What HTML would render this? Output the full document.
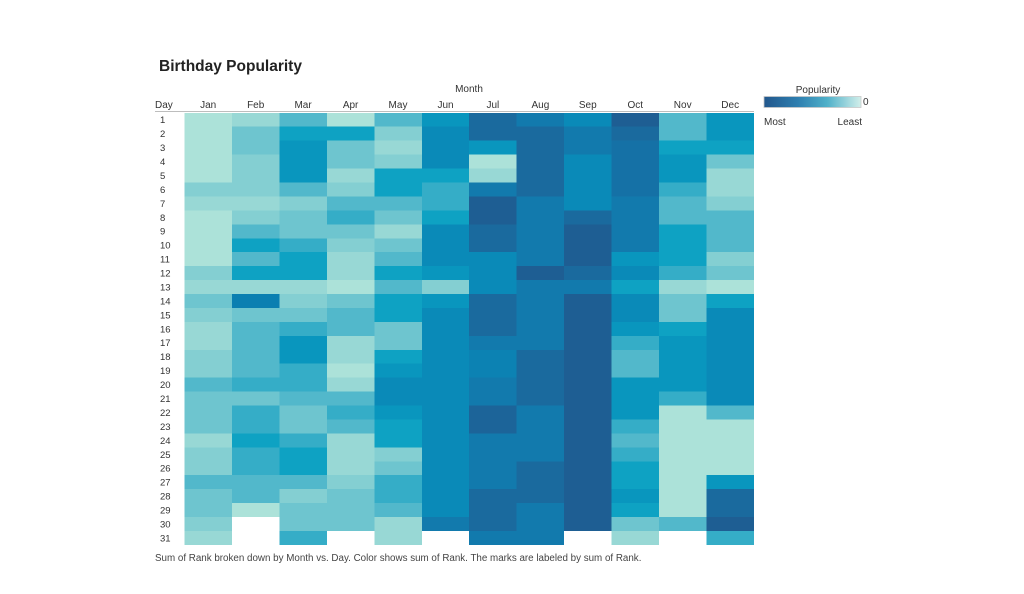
<!DOCTYPE html>
<html><head><meta charset="utf-8"><style>
html,body{margin:0;padding:0;background:#fff;}
svg{display:block;}
text{font-family:"Liberation Sans",Arial,sans-serif;fill:#333;}
.a{fill:#ace2d9}.b{fill:#98d8d5}.c{fill:#84cfd2}.d{fill:#6ec5cf}.e{fill:#52b8cb}.f{fill:#35adc7}
.g{fill:#0ea2c3}.h{fill:#0996be}.i{fill:#0a8ab8}.j{fill:#127aad}.k{fill:#1a6a9e}.l{fill:#1e5e93}
.m{fill:#0c82b3}.n{fill:#1571a6}.o{fill:#1c6499}.p{fill:#0b7fb1}
</style></head><body>
<svg width="1024" height="594" viewBox="0 0 1024 594" xmlns="http://www.w3.org/2000/svg">
<defs><linearGradient id="lg" x1="0" y1="0" x2="1" y2="0">
<stop offset="0" stop-color="#22578c"/><stop offset="0.35" stop-color="#2e7fb0"/><stop offset="0.65" stop-color="#4fb0c9"/><stop offset="1" stop-color="#d2efea"/></linearGradient></defs>
<rect width="1024" height="594" fill="#fff"/>
<text x="159" y="71" style="font-size:15.5px;font-weight:bold;fill:#222">Birthday Popularity</text>
<text x="469" y="92" text-anchor="middle" style="font-size:10px">Month</text>
<text x="155" y="108" style="font-size:10px">Day</text>
<g style="font-size:10px" text-anchor="middle">
<text x="208.2" y="108">Jan</text><text x="255.7" y="108">Feb</text><text x="303.1" y="108">Mar</text><text x="350.6" y="108">Apr</text><text x="398" y="108">May</text><text x="445.5" y="108">Jun</text><text x="492.9" y="108">Jul</text><text x="540.4" y="108">Aug</text><text x="587.8" y="108">Sep</text><text x="635.3" y="108">Oct</text><text x="682.7" y="108">Nov</text><text x="730.2" y="108">Dec</text>
</g>
<line x1="155" y1="111.5" x2="754" y2="111.5" stroke="#bdbdbd" stroke-width="1"/>
<g style="font-size:9.5px">
<text x="160" y="123.2">1</text><text x="160" y="137.1">2</text><text x="160" y="151.1">3</text><text x="160" y="165">4</text><text x="160" y="179">5</text><text x="160" y="192.9">6</text><text x="160" y="206.8">7</text><text x="160" y="220.8">8</text><text x="160" y="234.7">9</text><text x="160" y="248.7">10</text><text x="160" y="262.6">11</text><text x="160" y="276.5">12</text><text x="160" y="290.5">13</text><text x="160" y="304.4">14</text><text x="160" y="318.4">15</text><text x="160" y="332.3">16</text><text x="160" y="346.2">17</text><text x="160" y="360.2">18</text><text x="160" y="374.1">19</text><text x="160" y="388.1">20</text><text x="160" y="402">21</text><text x="160" y="415.9">22</text><text x="160" y="429.9">23</text><text x="160" y="443.8">24</text><text x="160" y="457.8">25</text><text x="160" y="471.7">26</text><text x="160" y="485.6">27</text><text x="160" y="499.6">28</text><text x="160" y="513.5">29</text><text x="160" y="527.5">30</text><text x="160" y="541.4">31</text>
</g>
<g transform="translate(184.5,112.8) scale(47.45,13.94)" shape-rendering="crispEdges">
<!-- Jan -->
<rect x="0" y="0" width="1" height="5" class="a"/><rect x="0" y="5" width="1" height="1" class="c"/><rect x="0" y="6" width="1" height="1" class="b"/><rect x="0" y="7" width="1" height="4" class="a"/><rect x="0" y="11" width="1" height="1" class="c"/><rect x="0" y="12" width="1" height="1" class="b"/><rect x="0" y="13" width="1" height="1" class="d"/><rect x="0" y="14" width="1" height="1" class="c"/><rect x="0" y="15" width="1" height="2" class="b"/><rect x="0" y="17" width="1" height="2" class="c"/><rect x="0" y="19" width="1" height="1" class="e"/><rect x="0" y="20" width="1" height="3" class="d"/><rect x="0" y="23" width="1" height="1" class="b"/><rect x="0" y="24" width="1" height="2" class="c"/><rect x="0" y="26" width="1" height="1" class="e"/><rect x="0" y="27" width="1" height="2" class="d"/><rect x="0" y="29" width="1" height="1" class="c"/><rect x="0" y="30" width="1" height="1" class="b"/>
<!-- Feb -->
<rect x="1" y="0" width="1" height="1" class="b"/><rect x="1" y="1" width="1" height="2" class="d"/><rect x="1" y="3" width="1" height="3" class="c"/><rect x="1" y="6" width="1" height="1" class="b"/><rect x="1" y="7" width="1" height="1" class="c"/><rect x="1" y="8" width="1" height="1" class="e"/><rect x="1" y="9" width="1" height="1" class="g"/><rect x="1" y="10" width="1" height="1" class="e"/><rect x="1" y="11" width="1" height="1" class="g"/><rect x="1" y="12" width="1" height="1" class="b"/><rect x="1" y="13" width="1" height="1" class="p"/><rect x="1" y="14" width="1" height="1" class="d"/><rect x="1" y="15" width="1" height="4" class="e"/><rect x="1" y="19" width="1" height="1" class="f"/><rect x="1" y="20" width="1" height="1" class="d"/><rect x="1" y="21" width="1" height="2" class="f"/><rect x="1" y="23" width="1" height="1" class="g"/><rect x="1" y="24" width="1" height="2" class="f"/><rect x="1" y="26" width="1" height="2" class="e"/><rect x="1" y="28" width="1" height="1" class="a"/>
<!-- Mar -->
<rect x="2" y="0" width="1" height="1" class="e"/><rect x="2" y="1" width="1" height="1" class="g"/><rect x="2" y="2" width="1" height="3" class="h"/><rect x="2" y="5" width="1" height="1" class="e"/><rect x="2" y="6" width="1" height="1" class="c"/><rect x="2" y="7" width="1" height="2" class="d"/><rect x="2" y="9" width="1" height="1" class="f"/><rect x="2" y="10" width="1" height="2" class="g"/><rect x="2" y="12" width="1" height="1" class="b"/><rect x="2" y="13" width="1" height="1" class="c"/><rect x="2" y="14" width="1" height="1" class="d"/><rect x="2" y="15" width="1" height="1" class="f"/><rect x="2" y="16" width="1" height="2" class="h"/><rect x="2" y="18" width="1" height="2" class="f"/><rect x="2" y="20" width="1" height="1" class="e"/><rect x="2" y="21" width="1" height="2" class="d"/><rect x="2" y="23" width="1" height="1" class="f"/><rect x="2" y="24" width="1" height="2" class="g"/><rect x="2" y="26" width="1" height="1" class="e"/><rect x="2" y="27" width="1" height="1" class="c"/><rect x="2" y="28" width="1" height="2" class="d"/><rect x="2" y="30" width="1" height="1" class="f"/>
<!-- Apr -->
<rect x="3" y="0" width="1" height="1" class="a"/><rect x="3" y="1" width="1" height="1" class="g"/><rect x="3" y="2" width="1" height="2" class="d"/><rect x="3" y="4" width="1" height="1" class="b"/><rect x="3" y="5" width="1" height="1" class="c"/><rect x="3" y="6" width="1" height="1" class="e"/><rect x="3" y="7" width="1" height="1" class="f"/><rect x="3" y="8" width="1" height="1" class="d"/><rect x="3" y="9" width="1" height="1" class="c"/><rect x="3" y="10" width="1" height="2" class="b"/><rect x="3" y="12" width="1" height="1" class="a"/><rect x="3" y="13" width="1" height="1" class="d"/><rect x="3" y="14" width="1" height="2" class="e"/><rect x="3" y="16" width="1" height="2" class="b"/><rect x="3" y="18" width="1" height="1" class="a"/><rect x="3" y="19" width="1" height="1" class="b"/><rect x="3" y="20" width="1" height="1" class="e"/><rect x="3" y="21" width="1" height="1" class="f"/><rect x="3" y="22" width="1" height="1" class="e"/><rect x="3" y="23" width="1" height="3" class="b"/><rect x="3" y="26" width="1" height="1" class="c"/><rect x="3" y="27" width="1" height="3" class="d"/>
<!-- May -->
<rect x="4" y="0" width="1" height="1" class="e"/><rect x="4" y="1" width="1" height="1" class="c"/><rect x="4" y="2" width="1" height="1" class="b"/><rect x="4" y="3" width="1" height="1" class="c"/><rect x="4" y="4" width="1" height="2" class="g"/><rect x="4" y="6" width="1" height="1" class="e"/><rect x="4" y="7" width="1" height="1" class="d"/><rect x="4" y="8" width="1" height="1" class="b"/><rect x="4" y="9" width="1" height="1" class="d"/><rect x="4" y="10" width="1" height="1" class="e"/><rect x="4" y="11" width="1" height="1" class="g"/><rect x="4" y="12" width="1" height="1" class="e"/><rect x="4" y="13" width="1" height="2" class="g"/><rect x="4" y="15" width="1" height="2" class="d"/><rect x="4" y="17" width="1" height="1" class="g"/><rect x="4" y="18" width="1" height="1" class="h"/><rect x="4" y="19" width="1" height="2" class="i"/><rect x="4" y="21" width="1" height="1" class="h"/><rect x="4" y="22" width="1" height="2" class="g"/><rect x="4" y="24" width="1" height="1" class="c"/><rect x="4" y="25" width="1" height="1" class="d"/><rect x="4" y="26" width="1" height="2" class="f"/><rect x="4" y="28" width="1" height="1" class="e"/><rect x="4" y="29" width="1" height="2" class="b"/>
<!-- Jun -->
<rect x="5" y="0" width="1" height="1" class="h"/><rect x="5" y="1" width="1" height="3" class="i"/><rect x="5" y="4" width="1" height="1" class="g"/><rect x="5" y="5" width="1" height="2" class="f"/><rect x="5" y="7" width="1" height="1" class="g"/><rect x="5" y="8" width="1" height="3" class="i"/><rect x="5" y="11" width="1" height="1" class="h"/><rect x="5" y="12" width="1" height="1" class="c"/><rect x="5" y="13" width="1" height="1" class="h"/><rect x="5" y="14" width="1" height="15" class="i"/><rect x="5" y="29" width="1" height="1" class="j"/>
<!-- Jul -->
<rect x="6" y="0" width="1" height="2" class="k"/><rect x="6" y="2" width="1" height="1" class="h"/><rect x="6" y="3" width="1" height="1" class="a"/><rect x="6" y="4" width="1" height="1" class="b"/><rect x="6" y="5" width="1" height="1" class="j"/><rect x="6" y="6" width="1" height="2" class="l"/><rect x="6" y="8" width="1" height="2" class="k"/><rect x="6" y="10" width="1" height="3" class="i"/><rect x="6" y="13" width="1" height="3" class="k"/><rect x="6" y="16" width="1" height="1" class="j"/><rect x="6" y="17" width="1" height="2" class="m"/><rect x="6" y="19" width="1" height="2" class="j"/><rect x="6" y="21" width="1" height="2" class="o"/><rect x="6" y="23" width="1" height="4" class="j"/><rect x="6" y="27" width="1" height="3" class="k"/><rect x="6" y="30" width="1" height="1" class="j"/>
<!-- Aug -->
<rect x="7" y="0" width="1" height="1" class="j"/><rect x="7" y="1" width="1" height="5" class="k"/><rect x="7" y="6" width="1" height="5" class="j"/><rect x="7" y="11" width="1" height="1" class="l"/><rect x="7" y="12" width="1" height="5" class="j"/><rect x="7" y="17" width="1" height="4" class="k"/><rect x="7" y="21" width="1" height="4" class="j"/><rect x="7" y="25" width="1" height="3" class="k"/><rect x="7" y="28" width="1" height="3" class="j"/>
<!-- Sep -->
<rect x="8" y="0" width="1" height="1" class="i"/><rect x="8" y="1" width="1" height="2" class="j"/><rect x="8" y="3" width="1" height="4" class="i"/><rect x="8" y="7" width="1" height="1" class="k"/><rect x="8" y="8" width="1" height="3" class="l"/><rect x="8" y="11" width="1" height="1" class="k"/><rect x="8" y="12" width="1" height="1" class="j"/><rect x="8" y="13" width="1" height="17" class="l"/>
<!-- Oct -->
<rect x="9" y="0" width="1" height="1" class="l"/><rect x="9" y="1" width="1" height="1" class="k"/><rect x="9" y="2" width="1" height="4" class="n"/><rect x="9" y="6" width="1" height="4" class="j"/><rect x="9" y="10" width="1" height="1" class="h"/><rect x="9" y="11" width="1" height="1" class="i"/><rect x="9" y="12" width="1" height="1" class="g"/><rect x="9" y="13" width="1" height="2" class="i"/><rect x="9" y="15" width="1" height="1" class="h"/><rect x="9" y="16" width="1" height="1" class="f"/><rect x="9" y="17" width="1" height="2" class="e"/><rect x="9" y="19" width="1" height="3" class="h"/><rect x="9" y="22" width="1" height="1" class="f"/><rect x="9" y="23" width="1" height="1" class="e"/><rect x="9" y="24" width="1" height="1" class="f"/><rect x="9" y="25" width="1" height="2" class="g"/><rect x="9" y="27" width="1" height="1" class="h"/><rect x="9" y="28" width="1" height="1" class="g"/><rect x="9" y="29" width="1" height="1" class="d"/><rect x="9" y="30" width="1" height="1" class="b"/>
<!-- Nov -->
<rect x="10" y="0" width="1" height="2" class="e"/><rect x="10" y="2" width="1" height="1" class="g"/><rect x="10" y="3" width="1" height="2" class="h"/><rect x="10" y="5" width="1" height="1" class="f"/><rect x="10" y="6" width="1" height="2" class="e"/><rect x="10" y="8" width="1" height="3" class="g"/><rect x="10" y="11" width="1" height="1" class="f"/><rect x="10" y="12" width="1" height="1" class="b"/><rect x="10" y="13" width="1" height="2" class="d"/><rect x="10" y="15" width="1" height="1" class="g"/><rect x="10" y="16" width="1" height="4" class="h"/><rect x="10" y="20" width="1" height="1" class="f"/><rect x="10" y="21" width="1" height="8" class="a"/><rect x="10" y="29" width="1" height="1" class="e"/>
<!-- Dec -->
<rect x="11" y="0" width="1" height="2" class="h"/><rect x="11" y="2" width="1" height="1" class="g"/><rect x="11" y="3" width="1" height="1" class="d"/><rect x="11" y="4" width="1" height="2" class="b"/><rect x="11" y="6" width="1" height="1" class="c"/><rect x="11" y="7" width="1" height="3" class="e"/><rect x="11" y="10" width="1" height="1" class="c"/><rect x="11" y="11" width="1" height="1" class="d"/><rect x="11" y="12" width="1" height="1" class="a"/><rect x="11" y="13" width="1" height="1" class="g"/><rect x="11" y="14" width="1" height="7" class="i"/><rect x="11" y="21" width="1" height="1" class="e"/><rect x="11" y="22" width="1" height="4" class="a"/><rect x="11" y="26" width="1" height="1" class="h"/><rect x="11" y="27" width="1" height="2" class="k"/><rect x="11" y="29" width="1" height="1" class="l"/><rect x="11" y="30" width="1" height="1" class="f"/>
</g>
<!-- Legend -->
<text x="818" y="93" text-anchor="middle" style="font-size:10px">Popularity</text>
<rect x="764" y="96.5" width="97" height="11" fill="url(#lg)" stroke="#c8c8c8" stroke-width="0.8"/>
<text x="863" y="105" style="font-size:10px">0</text>
<text x="764" y="125" style="font-size:10px">Most</text>
<text x="862" y="125" text-anchor="end" style="font-size:10px">Least</text>
<text x="155" y="561" style="font-size:9.8px;fill:#444">Sum of Rank broken down by Month vs. Day.  Color shows sum of Rank.  The marks are labeled by sum of Rank.</text>
</svg>
</body></html>
